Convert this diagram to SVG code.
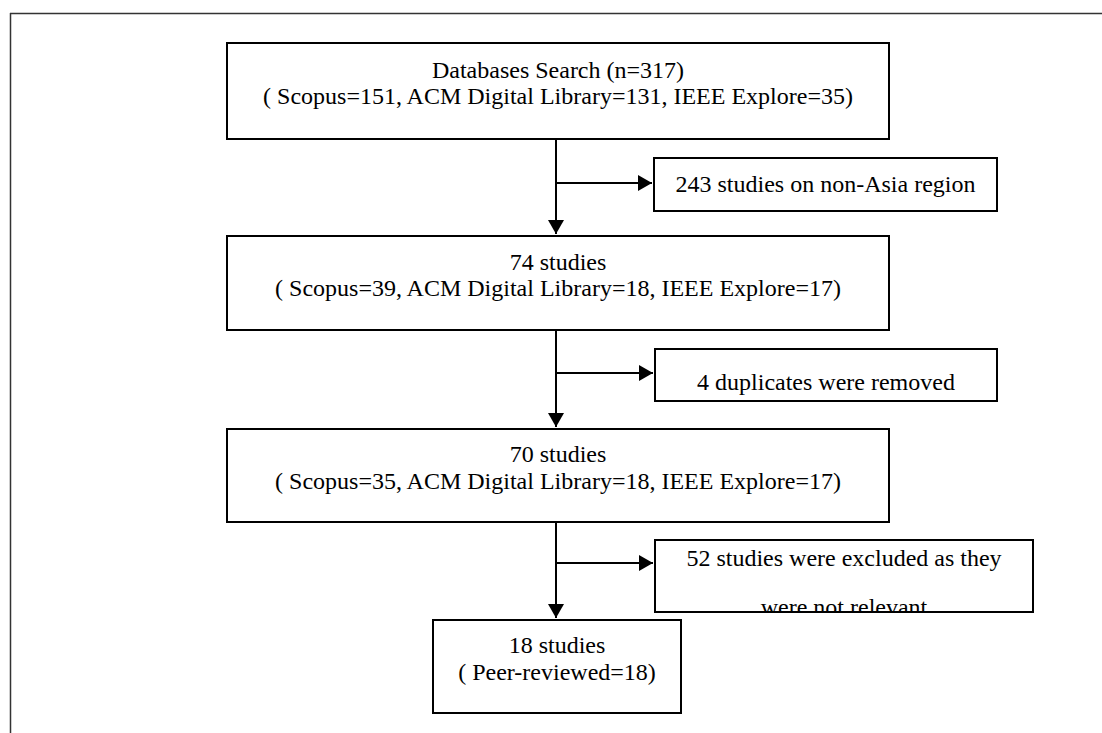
<svg xmlns="http://www.w3.org/2000/svg" width="1102" height="733" viewBox="0 0 1102 733">
<style>
.box{fill:#fff;stroke:#000;stroke-width:2}
.t{font-family:"Liberation Serif","Times New Roman",serif;font-size:24px;fill:#000;text-anchor:middle}
.ln{stroke:#000;stroke-width:2;fill:none}
</style>
<defs>
<marker id="ah" markerWidth="8" markerHeight="8" refX="7" refY="4" orient="auto" markerUnits="strokeWidth">
<path d="M0,0 L7,4 L0,8 Z" fill="#000"/>
</marker>
<clipPath id="c3"><rect x="656" y="541" width="377" height="70"/></clipPath>
</defs>
<rect width="1102" height="733" fill="#fff"/>
<g id="frame">
<path d="M10,13.5 H1102 M10.5,13 V733" stroke="#333" stroke-width="1.5" fill="none"/>
</g>
<g id="connectors">
<line class="ln" x1="556" y1="139" x2="556" y2="234" marker-end="url(#ah)"/>
<line class="ln" x1="556" y1="183" x2="652" y2="183" marker-end="url(#ah)"/>
<line class="ln" x1="556" y1="330" x2="556" y2="427" marker-end="url(#ah)"/>
<line class="ln" x1="556" y1="373" x2="653" y2="373" marker-end="url(#ah)"/>
<line class="ln" x1="556" y1="522" x2="556" y2="618" marker-end="url(#ah)"/>
<line class="ln" x1="556" y1="563" x2="653" y2="563" marker-end="url(#ah)"/>
</g>
<g id="n1">
<rect class="box" x="227" y="43" width="662" height="96"/>
<text class="t" x="558" y="78">Databases Search (n=317)</text>
<text class="t" x="558" y="104">( Scopus=151, ACM Digital Library=131, IEEE Explore=35)</text>
</g>
<g id="s1">
<rect class="box" x="654" y="158" width="343" height="53"/>
<text class="t" x="825.5" y="192">243 studies on non-Asia region</text>
</g>
<g id="n2">
<rect class="box" x="227" y="236" width="662" height="94"/>
<text class="t" x="558" y="270">74 studies</text>
<text class="t" x="558" y="296">( Scopus=39, ACM Digital Library=18, IEEE Explore=17)</text>
</g>
<g id="s2">
<rect class="box" x="655" y="349" width="342" height="52"/>
<text class="t" x="826" y="390">4 duplicates were removed</text>
</g>
<g id="n3">
<rect class="box" x="227" y="429" width="662" height="93"/>
<text class="t" x="558" y="462">70 studies</text>
<text class="t" x="558" y="489">( Scopus=35, ACM Digital Library=18, IEEE Explore=17)</text>
</g>
<g id="s3">
<rect class="box" x="655" y="540" width="378" height="72"/>
<g clip-path="url(#c3)">
<text class="t" x="844" y="566">52 studies were excluded as they</text>
<text class="t" x="844" y="615">were not relevant</text>
</g>
</g>
<g id="n4">
<rect class="box" x="433" y="620" width="248" height="93"/>
<text class="t" x="557" y="653">18 studies</text>
<text class="t" x="557" y="680">( Peer-reviewed=18)</text>
</g>
</svg>
